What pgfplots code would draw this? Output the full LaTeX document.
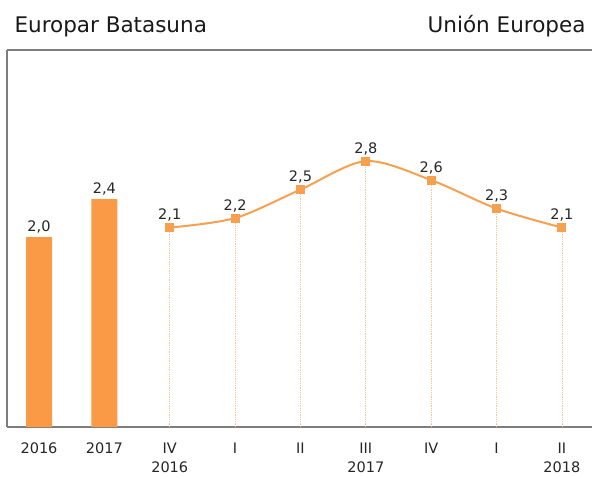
\documentclass[border=0pt]{standalone}
\usepackage{pgfplots}
\pgfplotsset{compat=1.18}
\usepackage{fontspec}
\setmainfont{DejaVu Sans}
\definecolor{bar}{RGB}{250,153,70}
\definecolor{ln}{RGB}{246,160,80}
\definecolor{frame}{RGB}{125,125,125}
\begin{document}
\begin{tikzpicture}
\begin{axis}[
  scale only axis,
  width=585pt, height=377pt,
  xmin=-0.49, xmax=8.46,
  ymin=0, ymax=3.97,
  axis x line*=bottom, axis y line*=left,
  axis line style={frame, line width=1.5pt, -},
  ytick=\empty,
  xtick={0,1,2,3,4,5,6,7,8},
  xticklabels={2016,2017,{IV\\2016},I,II,{III\\2017},IV,I,{II\\2018}},
  x tick label style={align=center, font=\fontsize{14.5}{19}\selectfont, yshift=-12pt, text=black!85},
  major tick length=0pt,
  /pgf/number format/assume math mode=true,
  clip=false,
]
\draw[frame, line width=1.5pt] (rel axis cs:0,1) -- (rel axis cs:1,1);
\addplot[ybar, bar width=26pt, fill=bar, draw=none,
  nodes near coords, every node near coord/.style={font=\fontsize{14.5}{16}\selectfont, text=black!85, anchor=south, yshift=0pt, /pgf/number format/.cd, fixed, fixed zerofill, precision=1, use comma, assume math mode=true}]
  coordinates {(0,2.0) (1,2.4)};
\addplot[ycomb, ln!60, densely dotted, line width=0.8pt, no marks]
  coordinates {(2,2.1) (3,2.2) (4,2.5) (5,2.8) (6,2.6) (7,2.3) (8,2.1)};
\addplot[ln, line width=2pt, smooth, tension=0.5, mark=square*, mark size=3.5pt,
  mark options={fill=ln, draw=ln},
  nodes near coords, every node near coord/.style={font=\fontsize{14.5}{16}\selectfont, text=black!85, anchor=south, yshift=2pt, /pgf/number format/.cd, fixed, fixed zerofill, precision=1, use comma, assume math mode=true}]
  coordinates {(2,2.1) (3,2.2) (4,2.5) (5,2.8) (6,2.6) (7,2.3) (8,2.1)};
\end{axis}
\node[anchor=base west, font=\fontsize{21.5}{24}\selectfont, text=black!90] at (4pt,394pt) {Europar Batasuna};
\node[anchor=base east, font=\fontsize{21.5}{24}\selectfont, text=black!90] at (582pt,394pt) {Unión Europea};
\pgfresetboundingbox
\useasboundingbox (-7pt,-50pt) rectangle (585pt,427pt);
\end{tikzpicture}
\end{document}
